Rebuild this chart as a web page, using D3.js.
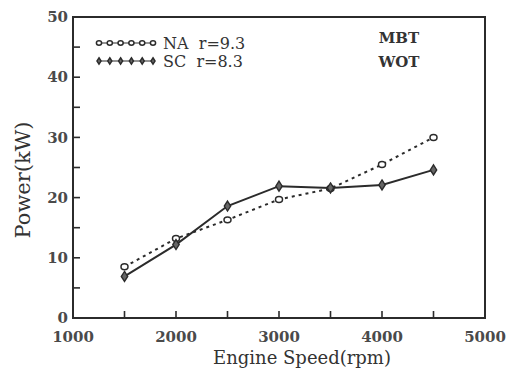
<!DOCTYPE html>
<html>
<head>
<meta charset="utf-8">
<script src="https://cdn.jsdelivr.net/npm/d3@7"></script>
<style>
  body { margin: 0; background: #fff; }
  svg { display: block; }
</style>
</head>
<body>
<svg id="chart" width="509" height="370"></svg>
<script>
var speeds = [1500, 2000, 2500, 3000, 3500, 4000, 4500];
var powerNA = [8.5, 13.2, 16.3, 19.7, 21.5, 25.5, 30.0];
var powerSC = [6.9, 12.2, 18.6, 21.9, 21.6, 22.1, 24.6];
var xTickLabels = [1000, 2000, 3000, 4000, 5000];
var yTickLabels = [0, 10, 20, 30, 40, 50];

var ink = "#2b2b2b";
var svg = d3.select("#chart"),
  margin = { left: 73, top: 17, right: 24, bottom: 52 },
  width = 509 - margin.left - margin.right,
  height = 370 - margin.top - margin.bottom;

var x = d3.scaleLinear().domain([1000, 5000]).range([0, width]);
var y = d3.scaleLinear().domain([0, 50]).range([height, 0]);

var g = svg.append("g")
  .attr("transform", "translate(" + margin.left + "," + margin.top + ")");

// frame
g.append("rect")
  .attr("width", width)
  .attr("height", height)
  .attr("fill", "none")
  .attr("stroke", ink)
  .attr("stroke-width", 2);

// inner ticks
g.selectAll(".ytick")
  .data(d3.range(5, 50, 5))
  .enter().append("line")
    .attr("x1", 0).attr("x2", 7)
    .attr("y1", function(d) { return y(d); })
    .attr("y2", function(d) { return y(d); })
    .attr("stroke", ink)
    .attr("stroke-width", 1.6);

g.selectAll(".xtick")
  .data(d3.range(1500, 5000, 500))
  .enter().append("line")
    .attr("x1", function(d) { return x(d); })
    .attr("x2", function(d) { return x(d); })
    .attr("y1", height).attr("y2", height - 7)
    .attr("stroke", ink)
    .attr("stroke-width", 1.6);

var serif = "'DejaVu Serif', serif";

g.selectAll(".ylab")
  .data(yTickLabels)
  .enter().append("text")
    .attr("x", -5)
    .attr("y", function(d) { return y(d); })
    .attr("dy", "0.35em")
    .attr("text-anchor", "end")
    .attr("font-family", serif)
    .attr("font-weight", "bold")
    .attr("font-size", 15)
    .attr("fill", "#4a4a4a")
    .text(function(d) { return d; });

g.selectAll(".xlab")
  .data(xTickLabels)
  .enter().append("text")
    .attr("x", function(d) { return x(d); })
    .attr("y", height + 24)
    .attr("text-anchor", "middle")
    .attr("font-family", serif)
    .attr("font-weight", "bold")
    .attr("font-size", 15)
    .attr("fill", "#4a4a4a")
    .text(function(d) { return d; });

// axis titles
svg.append("text")
  .attr("x", 302)
  .attr("y", 364)
  .attr("text-anchor", "middle")
  .attr("font-family", serif)
  .attr("font-size", 18)
  .attr("fill", "#333")
  .text("Engine Speed(rpm)");

svg.append("text")
  .attr("transform", "translate(30,180) rotate(-90)")
  .attr("text-anchor", "middle")
  .attr("font-family", serif)
  .attr("font-size", 21)
  .attr("fill", "#333")
  .text("Power(kW)");

// series
var line = d3.line()
  .x(function(d) { return x(d[0]); })
  .y(function(d) { return y(d[1]); });

var na = d3.zip(speeds, powerNA),
  sc = d3.zip(speeds, powerSC);

g.append("path")
  .datum(na)
  .attr("d", line)
  .attr("fill", "none")
  .attr("stroke", ink)
  .attr("stroke-width", 2)
  .attr("stroke-dasharray", "3,4");

g.append("path")
  .datum(sc)
  .attr("d", line)
  .attr("fill", "none")
  .attr("stroke", ink)
  .attr("stroke-width", 2);

function drawCircle(sel, r) {
  sel.append("ellipse")
    .attr("rx", r).attr("ry", r * 0.85)
    .attr("fill", "#fff")
    .attr("stroke", ink)
    .attr("stroke-width", 1.5);
}

function drawDiamond(sel, r) {
  sel.append("path")
    .attr("d", "M0," + (-r * 1.25) + "L" + (r * 0.8) + ",0L0," + (r * 1.25) + "L" + (-r * 0.8) + ",0Z")
    .attr("fill", "#666")
    .attr("stroke", ink)
    .attr("stroke-width", 1.4);
}

g.selectAll(".na")
  .data(na)
  .enter().append("g")
    .attr("transform", function(d) { return "translate(" + x(d[0]) + "," + y(d[1]) + ")"; })
    .call(drawCircle, 3.5);

g.selectAll(".sc")
  .data(sc)
  .enter().append("g")
    .attr("transform", function(d) { return "translate(" + x(d[0]) + "," + y(d[1]) + ")"; })
    .call(drawDiamond, 4);

// legend
var legend = [
  { label: "NA  r=9.3", draw: drawCircle },
  { label: "SC  r=8.3", draw: drawDiamond }
];

var leg = svg.selectAll(".legend")
  .data(legend)
  .enter().append("g")
    .attr("transform", function(d, i) { return "translate(99," + (43 + i * 18) + ")"; });

leg.append("line")
  .attr("x1", 0).attr("x2", 54)
  .attr("stroke", ink)
  .attr("stroke-width", 1.2);

leg.each(function(d) {
  d3.select(this).selectAll(".m")
    .data(d3.range(6))
    .enter().append("g")
      .attr("transform", function(k) { return "translate(" + (k * 10.8) + ",0)"; })
      .call(d.draw, 2.6);
});

leg.append("text")
  .attr("x", 64)
  .attr("dy", "0.36em")
  .attr("font-family", serif)
  .attr("font-size", 16)
  .attr("fill", "#333")
  .style("white-space", "pre")
  .text(function(d) { return d.label; });

svg.selectAll(".note")
  .data(["MBT", "WOT"])
  .enter().append("text")
    .attr("x", 399)
    .attr("y", function(d, i) { return 43 + i * 24; })
    .attr("text-anchor", "middle")
    .attr("font-family", serif)
    .attr("font-weight", "bold")
    .attr("font-size", 15)
    .attr("fill", "#333")
    .text(function(d) { return d; });
</script>
</body>
</html>
